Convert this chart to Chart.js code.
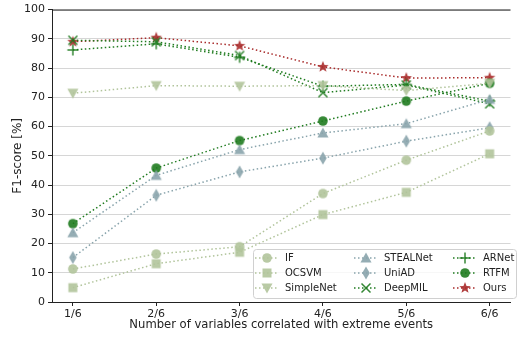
<!DOCTYPE html>
<html>
<head>
<meta charset="utf-8">
<script src="https://cdn.jsdelivr.net/npm/chart.js@4"></script>
<style>
  html, body { margin: 0; padding: 0; background: #fff; }
  #wrap { width: 518px; height: 337px; }
</style>
</head>
<body>
<div id="wrap"><canvas id="myChart" width="518" height="337"></canvas></div>
<script>
// x categories
const categories = ['1/6', '2/6', '3/6', '4/6', '5/6', '6/6'];
const yTicks = [0, 10, 20, 30, 40, 50, 60, 70, 80, 90, 100];

// F1-score [%] per method
const ifScores = [11.3, 16.4, 18.9, 37.1, 48.5, 58.5];
const ocsvmScores = [4.9, 13.1, 17.0, 29.9, 37.5, 50.7];
const simpleNetScores = [71.4, 74.0, 73.8, 74.0, 72.3, 74.8];
const stealNetScores = [23.7, 43.3, 52.1, 57.8, 61.0, 69.3];
const uniadScores = [15.2, 36.5, 44.5, 49.2, 55.0, 59.6];
const deepMilScores = [89.5, 89.0, 84.3, 71.6, 74.2, 67.8];
const arNetScores = [86.2, 88.3, 83.7, 73.8, 74.4, 68.7];
const rtfmScores = [26.8, 45.8, 55.2, 61.9, 68.7, 74.8];
const oursScores = [89.0, 90.4, 87.6, 80.4, 76.6, 76.7];

const olive = '#b1c49b';
const slate = '#89a4ac';
const green = '#1f7b1f';
const brick = '#a82a2a';

// little canvases used as point styles (matplotlib-like markers)
function makeMarker(shape, color) {
    const s = 14;
    const c = document.createElement('canvas');
    c.width = s; c.height = s;
    const g = c.getContext('2d');
    const m = s / 2;
    g.globalAlpha = 0.9;
    g.fillStyle = color;
    g.strokeStyle = color;
    g.lineWidth = 1.5;
    g.beginPath();
    if (shape === 'circle') {
        g.arc(m, m, 4.8, 0, Math.PI * 2);
        g.fill();
    } else if (shape === 'square') {
        g.fillRect(m - 4.5, m - 4.5, 9, 9);
    } else if (shape === 'up') {
        g.moveTo(m, m - 5.5); g.lineTo(m + 5.5, m + 4.5); g.lineTo(m - 5.5, m + 4.5);
        g.closePath(); g.fill();
    } else if (shape === 'down') {
        g.moveTo(m, m + 5.5); g.lineTo(m + 5.5, m - 4.5); g.lineTo(m - 5.5, m - 4.5);
        g.closePath(); g.fill();
    } else if (shape === 'thin') {
        g.moveTo(m, m - 6.5); g.lineTo(m + 3.8, m); g.lineTo(m, m + 6.5); g.lineTo(m - 3.8, m);
        g.closePath(); g.fill();
    } else if (shape === 'plus') {
        g.moveTo(m - 5.5, m); g.lineTo(m + 5.5, m);
        g.moveTo(m, m - 5.5); g.lineTo(m, m + 5.5);
        g.stroke();
    } else if (shape === 'x') {
        g.moveTo(m - 4.5, m - 4.5); g.lineTo(m + 4.5, m + 4.5);
        g.moveTo(m + 4.5, m - 4.5); g.lineTo(m - 4.5, m + 4.5);
        g.stroke();
    } else if (shape === 'star') {
        for (let i = 0; i < 10; i++) {
            const r = i % 2 === 0 ? 6 : 2.6;
            const a = -Math.PI / 2 + i * Math.PI / 5;
            const px = m + r * Math.cos(a), py = m + r * Math.sin(a);
            if (i === 0) g.moveTo(px, py); else g.lineTo(px, py);
        }
        g.closePath(); g.fill();
    }
    return c;
}

function series(label, values, color, shape) {
    const marker = makeMarker(shape, color);
    return {
        label: label,
        data: values.map((v, i) => ({ x: i + 1, y: v })),
        borderColor: color,
        backgroundColor: color,
        borderWidth: 1.5,
        borderDash: [1.5, 2.5],
        pointStyle: marker,
        pointRadius: 6,
        pointHoverRadius: 6,
        fill: false,
        tension: 0,
        marker: marker
    };
}

const datasets = [
    series('IF', ifScores, olive, 'circle'),
    series('OCSVM', ocsvmScores, olive, 'square'),
    series('SimpleNet', simpleNetScores, olive, 'down'),
    series('STEALNet', stealNetScores, slate, 'up'),
    series('UniAD', uniadScores, slate, 'thin'),
    series('DeepMIL', deepMilScores, green, 'x'),
    series('ARNet', arNetScores, green, 'plus'),
    series('RTFM', rtfmScores, green, 'circle'),
    series('Ours', oursScores, brick, 'star')
];

// legend box in the lower right + top spine
const legendBox = {
    id: 'legendBox',
    afterDraw(chart) {
        const ctx = chart.ctx;
        const area = chart.chartArea;
        ctx.save();
        ctx.strokeStyle = '#222';
        ctx.lineWidth = 1;
        ctx.beginPath();
        ctx.moveTo(area.left, area.top + 0.5);
        ctx.lineTo(area.right, area.top + 0.5);
        ctx.stroke();

        const bx = 253, by = 249, bw = 263, bh = 49;
        ctx.fillStyle = 'rgba(255,255,255,0.8)';
        ctx.strokeStyle = '#d0d0d0';
        ctx.beginPath();
        ctx.roundRect(bx + 0.5, by + 0.5, bw, bh, 3);
        ctx.fill();
        ctx.stroke();

        const colX = [267, 366, 465];
        const rowY = [258, 273, 288];
        ctx.font = '10px "DejaVu Sans"';
        ctx.textBaseline = 'middle';
        ctx.fillStyle = '#222';
        chart.data.datasets.forEach((ds, i) => {
            const cx = colX[Math.floor(i / 3)];
            const cy = rowY[i % 3];
            ctx.save();
            ctx.strokeStyle = ds.borderColor;
            ctx.lineWidth = 1.5;
            ctx.setLineDash([1.5, 2.5]);
            ctx.beginPath();
            ctx.moveTo(cx - 12, cy);
            ctx.lineTo(cx + 12, cy);
            ctx.stroke();
            ctx.restore();
            const mk = ds.marker;
            ctx.drawImage(mk, cx - mk.width / 2, cy - mk.height / 2);
            ctx.fillText(ds.label, cx + 18, cy + 0.5);
        });
        ctx.restore();
    }
};

const ctx = document.getElementById('myChart').getContext('2d');
const myChart = new Chart(ctx, {
    type: 'line',
    data: { datasets: datasets },
    options: {
        responsive: false,
        animation: false,
        devicePixelRatio: 1,
        layout: { padding: { top: 9, right: 0, left: 0, bottom: 0 } },
        plugins: {
            legend: { display: false },
            tooltip: { enabled: false }
        },
        scales: {
            x: {
                type: 'linear',
                min: 0.75,
                max: 6.25,
                afterFit: scale => { scale.height = 35; },
                afterBuildTicks: scale => {
                    scale.ticks = categories.map((c, i) => ({ value: i + 1 }));
                },
                ticks: {
                    autoSkip: false,
                    maxRotation: 0,
                    padding: 2,
                    color: '#222',
                    font: { family: 'DejaVu Sans', size: 11 },
                    callback: v => categories[v - 1]
                },
                grid: {
                    display: true,
                    drawOnChartArea: false,
                    drawTicks: true,
                    tickLength: 4,
                    color: '#222'
                },
                border: { color: '#222', width: 1 },
                title: {
                    display: true,
                    text: 'Number of variables correlated with extreme events',
                    color: '#222',
                    font: { family: 'DejaVu Sans', size: 11.6 },
                    padding: { top: 1, bottom: 5 }
                }
            },
            y: {
                min: 0,
                max: 100,
                afterFit: scale => { scale.width = 52; },
                afterBuildTicks: scale => {
                    scale.ticks = yTicks.map(v => ({ value: v }));
                },
                ticks: {
                    padding: 3,
                    color: '#222',
                    font: { family: 'DejaVu Sans', size: 11 }
                },
                grid: {
                    color: 'rgba(0,0,0,0.16)',
                    lineWidth: 1,
                    tickLength: 4,
                    tickColor: '#222'
                },
                border: { color: '#222', width: 1 },
                title: {
                    display: true,
                    text: 'F1-score [%]',
                    color: '#222',
                    font: { family: 'DejaVu Sans', size: 12 },
                    padding: { top: 11, bottom: 4 }
                }
            }
        }
    },
    plugins: [legendBox]
});
</script>
</body>
</html>
